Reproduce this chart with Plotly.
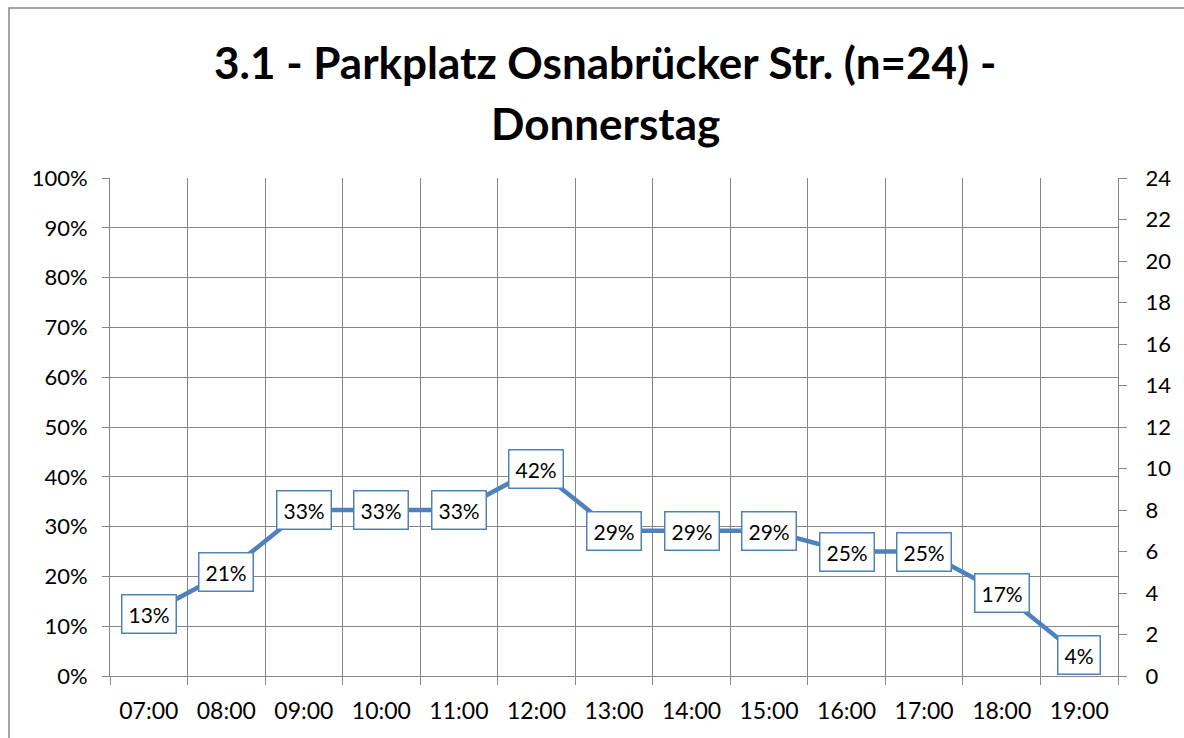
import plotly.graph_objects as go

hours = ["07:00", "08:00", "09:00", "10:00", "11:00", "12:00", "13:00",
         "14:00", "15:00", "16:00", "17:00", "18:00", "19:00"]
counts = [3, 5, 8, 8, 8, 10, 7, 7, 7, 6, 6, 4, 1]
capacity = 24
shares = [c / capacity for c in counts]
left_ticks = [i / 10 for i in range(11)]
left_labels = [f"{i * 10}%" for i in range(11)]
right_ticks = list(range(0, 25, 2))
title_lines = ["3.1 - Parkplatz Osnabrücker Str. (n=24) -", "Donnerstag"]

BLUE = "#4F81BD"
GRID = "#868686"
FONT = "Lato"

L, T, PW, PH = 110, 178, 1008, 498


def px_x(x):
    return (x - L) / PW


def px_y(y):
    return 1 + (T - y) / PH


fig = go.Figure()
fig.add_trace(go.Scatter(x=hours, y=shares, mode="lines",
                         line=dict(color=BLUE, width=4.5), hoverinfo="skip",
                         showlegend=False, yaxis="y"))
fig.add_trace(go.Scatter(x=hours, y=counts, mode="lines",
                         line=dict(color="rgba(0,0,0,0)", width=0), hoverinfo="skip",
                         showlegend=False, yaxis="y2"))

for h, s in zip(hours, shares):
    fig.add_annotation(x=h, y=s, xref="x", yref="y", text=f"{int(s * 100 + 0.5)}%",
                       showarrow=False, font=dict(family=FONT, size=21, color="black"),
                       bgcolor="white", bordercolor=BLUE, borderwidth=1.5, borderpad=6)

for line, yc in zip(title_lines, [62, 123]):
    fig.add_annotation(xref="paper", yref="paper", x=px_x(605), y=px_y(yc),
                       text=f"<b>{line}</b>", showarrow=False,
                       font=dict(family=FONT, size=44, color="black"),
                       xanchor="center", yanchor="middle", align="center")

fig.add_shape(type="rect", xref="paper", yref="paper",
              x0=px_x(9), x1=1.2, y0=-0.3, y1=px_y(8),
              line=dict(color="#868686", width=1.5), fillcolor="rgba(0,0,0,0)", layer="below")

fig.update_layout(
    width=1184, height=738,
    margin=dict(l=L, r=1184 - L - PW, t=T, b=738 - T - PH),
    paper_bgcolor="white", plot_bgcolor="white",
    font=dict(family=FONT, size=21, color="black"),
    xaxis=dict(type="category", range=[-0.5, 12.5], tickson="boundaries",
               showgrid=True, gridcolor=GRID, gridwidth=1,
               showline=True, linecolor=GRID, linewidth=1,
               ticks="outside", ticklen=8, tickcolor=GRID, ticklabelstandoff=14,
               tickfont=dict(family=FONT, size=23), fixedrange=True),
    yaxis=dict(range=[0, 1], tickvals=left_ticks, ticktext=left_labels,
               showgrid=True, gridcolor=GRID, gridwidth=1,
               showline=True, linecolor=GRID, linewidth=1,
               ticks="outside", ticklen=7, tickcolor=GRID, zeroline=False,
               ticklabelstandoff=10,
               tickfont=dict(family=FONT, size=22)),
    yaxis2=dict(range=[0, 24], tickvals=right_ticks, overlaying="y", side="right",
                showgrid=False, showline=True, linecolor=GRID, linewidth=1,
                ticks="outside", ticklen=8, tickcolor=GRID, zeroline=False,
                ticklabelstandoff=14,
                tickfont=dict(family=FONT, size=22)),
)

fig.write_html("out.html", config={"displayModeBar": False, "staticPlot": True},
               post_script="document.body.style.margin='0';")
